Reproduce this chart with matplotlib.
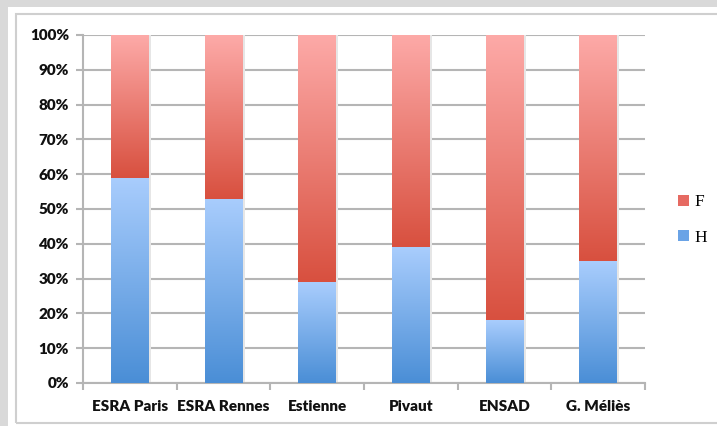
import numpy as np
import matplotlib
matplotlib.use("Agg")
import matplotlib.pyplot as plt
from matplotlib.patches import Rectangle
from matplotlib.colors import LinearSegmentedColormap
from matplotlib.ticker import PercentFormatter, FixedLocator

categories = ["ESRA Paris", "ESRA Rennes", "Estienne", "Pivaut", "ENSAD", "G. Méliès"]
h_values = [59, 53, 29, 39, 18, 35]
f_values = [100 - v for v in h_values]
series_labels = ["F", "H"]

W, H = 717, 426
fig = plt.figure(figsize=(W / 100, H / 100), dpi=100)
fig.patch.set_facecolor("#d9d9d9")
# white panel and inner frame
fig.add_artist(Rectangle((8 / W, 0), 1, 1 - 7 / H, transform=fig.transFigure,
                         facecolor="white", edgecolor="none", zorder=0))
fig.add_artist(Rectangle((16 / W, 3 / H), 1, 1 - 17 / H, transform=fig.transFigure,
                         facecolor="none", edgecolor="#cfcfcf", lw=1.5, zorder=1))

ax = fig.add_axes([83 / W, 1 - 383 / H, (645 - 83) / W, (383 - 35) / H])
ax.set_facecolor("none")

x = np.arange(len(categories))
bw = 0.40
bars_h = ax.bar(x, h_values, bw, color="none", zorder=3)
bars_f = ax.bar(x, f_values, bw, bottom=h_values, color="none", zorder=3)

blue_cm = LinearSegmentedColormap.from_list("b", ["#4a8ed6", "#a9cdfd"])
red_cm = LinearSegmentedColormap.from_list("r", ["#d8503f", "#fdaaa8"])
grad = np.linspace(0, 1, 256).reshape(-1, 1)

for bars, cm in ((bars_h, blue_cm), (bars_f, red_cm)):
    for p in bars:
        x0, y0 = p.get_x(), p.get_y()
        w, hgt = p.get_width(), p.get_height()
        # subtle shadow on right
        ax.add_patch(Rectangle((x0 + w, y0), 0.025, hgt, facecolor="#e6e6e6",
                               edgecolor="none", zorder=2))
        im = ax.imshow(grad, cmap=cm, origin="lower", aspect="auto",
                       extent=(x0, x0 + w, y0, y0 + hgt), zorder=3,
                       interpolation="bilinear")
        im.set_clip_path(p)

ax.set_xlim(-0.5, len(categories) - 0.5)
ax.set_ylim(0, 100)

ax.yaxis.set_major_locator(FixedLocator(np.arange(0, 101, 10)))
ax.yaxis.set_major_formatter(PercentFormatter(decimals=0))
ax.grid(axis="y", color="#b5b5b5", lw=1.5, zorder=1)
ax.set_axisbelow(True)

ax.set_xticks(x)
ax.set_xticklabels(categories)
ax.set_xticks(np.arange(-0.5, len(categories), 1), minor=True)
ax.tick_params(axis="x", which="major", length=0, pad=12)
ax.tick_params(axis="x", which="minor", length=5, color="#b5b5b5", width=1.5)
ax.tick_params(axis="y", length=5, color="#b5b5b5", width=1.5, pad=5)

for side in ("top", "right"):
    ax.spines[side].set_visible(False)
for side in ("left", "bottom"):
    ax.spines[side].set_color("#b5b5b5")
    ax.spines[side].set_linewidth(1.5)

for lbl in ax.get_xticklabels() + ax.get_yticklabels():
    lbl.set_fontfamily("Lato")
    lbl.set_fontweight("heavy")
    lbl.set_fontsize(11)
    lbl.set_color("#111111")

# legend
handles = [Rectangle((0, 0), 1, 1, facecolor="#e66a62", edgecolor="none"),
           Rectangle((0, 0), 1, 1, facecolor="#6aa3e6", edgecolor="none")]
leg = fig.legend(handles, series_labels, loc="center left",
                 bbox_to_anchor=(662 / W, 1 - 220 / H), frameon=False,
                 handlelength=0.65, handleheight=0.65, handletextpad=0.3,
                 labelspacing=1.1, prop={"family": "Liberation Serif", "size": 12.5})

fig.savefig("out.png", dpi=100, facecolor=fig.get_facecolor())
